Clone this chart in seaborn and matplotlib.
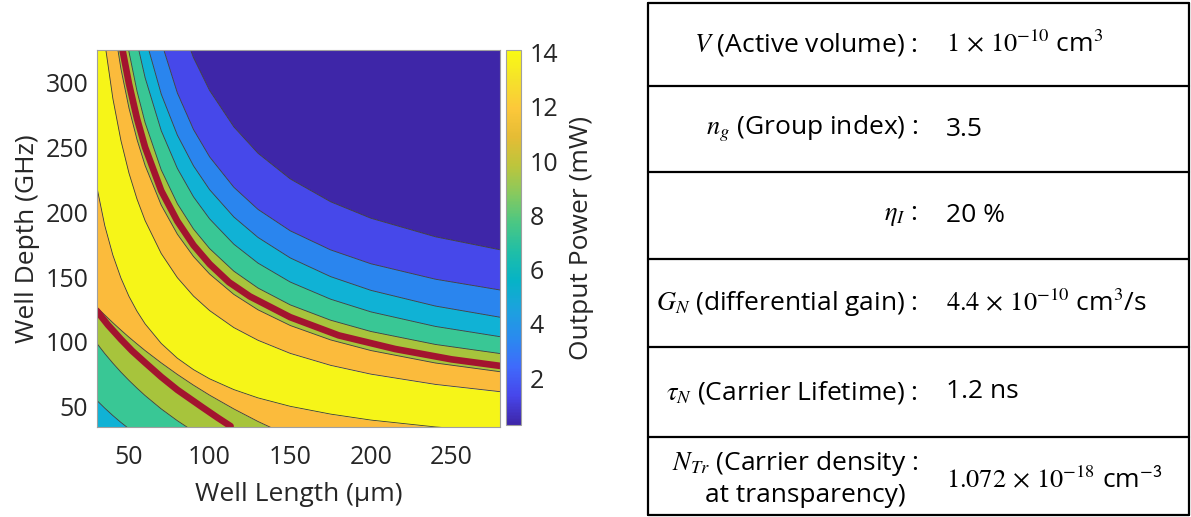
import matplotlib
matplotlib.use("Agg")
import matplotlib.pyplot as plt
from matplotlib.colors import LinearSegmentedColormap, Normalize
from matplotlib.cm import ScalarMappable
import seaborn as sns

sns.set_theme(style="white")
plt.rcParams["font.family"] = ["Open Sans", "DejaVu Sans"]
plt.rcParams["mathtext.fontset"] = "stix"

# contour boundaries: well depth (GHz) of each
# iso-power line at these well lengths (um)
well_length = [30, 35, 40, 45, 50, 55, 60, 70, 80, 90, 100, 115, 130, 150,
               175, 200, 240, 280]
# ridge side towards long / deep wells
upper_2 = [1534, 1062, 825, 684, 589, 522, 471, 400, 352.8, 319.1, 293.8,
           265.8, 245.4, 225.6, 208, 195.3, 181, 171]
upper_4 = [1280, 884, 687, 568, 489, 433, 390.7, 331.4, 291.9, 263.7, 242.6,
           219.2, 202.1, 185.6, 170.9, 160.2, 148.3, 140]
upper_6 = [733, 601, 512, 449, 401.6, 364.7, 335.2, 291, 259.4, 235.7, 217.3,
           196.3, 180.5, 164.7, 150.3, 139.7, 127.6, 119]
upper_8 = [671, 549, 467, 408.7, 365, 330.9, 303.7, 262.8, 233.7, 211.8,
           194.8, 175.3, 160.7, 146.1, 132.9, 123.1, 111.9, 104]
upper_9_5 = [597, 487, 414.6, 362.6, 323.6, 293.2, 269, 232.6, 206.5, 187,
             171.9, 154.5, 141.5, 128.5, 116.7, 108, 98, 91]
upper_11 = [474.6, 401.7, 349.6, 310.6, 280.2, 255.9, 236, 205.4, 183, 165.8,
            152.3, 136.6, 124.7, 112.6, 101.5, 93.3, 83.7, 77]
upper_12_5 = [391.4, 330.9, 287.7, 255.3, 230.1, 210, 193.5, 168.1, 149.5,
              135.3, 124.1, 111, 101.2, 91.1, 81.9, 75.1, 67.2, 61.6]
# ridge side towards short / shallow wells
lower_12_5 = [220, 189.7, 167, 149.3, 135.1, 123.6, 113.9, 98.8, 87.4, 78.6,
              71.5, 63.2, 56.8, 50.3, 44.3, 39.7, 34.4, 30.6]
lower_11 = [126.9, 120.7, 114.8, 109.1, 103.6, 98.4, 93.3, 83.8, 74.9, 66.6,
            58.9, 48.3, 38.6, 27, 14.2, 3, -12, -25]
lower_9_5 = [99, 91, 83.6, 76.7, 70.3, 64.3, 58.6, 48.3, 39.2, 31, 23.6, 13.9,
             5.4, -4.4, -14.5, -23, -34, -44]
lower_8 = [55, 48.9, 43.2, 37.9, 33, 28.4, 24.1, 16.3, 9.3, 2.9, -2.6, -10,
           -17, -23, -29, -35, -40, -45]

# red curves
red_upper_L = [46, 50, 55, 60, 70, 80, 90, 100, 112, 125, 150, 180, 215, 250, 280]
red_upper_D = [325, 299, 272, 250, 216.5, 193, 174.5, 160, 146, 135, 119, 105,
               94.5, 86.5, 81.5]
red_lower_L = [30, 37, 45, 52, 60, 70, 80, 95, 105, 113]
red_lower_D = [124, 113, 102, 93, 84, 73, 63, 50, 41.5, 35]

cbar_ticks = [2, 4, 6, 8, 10, 12, 14]
power_min, power_max = 0.27, 14.1

# table
param_labels = [
    r"$V$ (Active volume) :",
    r"$n_g$ (Group index) :",
    r"$\eta_I$ :",
    r"$G_N$ (differential gain) :",
    r"$\tau_N$ (Carrier Lifetime) :",
    r"$N_{Tr}$ (Carrier density :",
]
param_values = [
    r"$1\,\times\,10^{-10}$ cm$^3$",
    "3.5",
    "20 %",
    r"$4.4\,\times\,10^{-10}$ cm$^3$/s",
    "1.2 ns",
    r"$1.072\,\times\,10^{-18}$ cm$^{\mathsf{-3}}$",
]

dp, bp, blue, cyan = "#3E26A8", "#4648EA", "#2A85EE", "#10B2D5"
teal, olive, orange, yellow = "#39C795", "#A7C43C", "#FBBB3C", "#F6F518"
parula = LinearSegmentedColormap.from_list("parula", [
    "#3E26A8", "#4746EB", "#3F6AFB", "#2A8AEF", "#1CA2DE", "#06B3C6",
    "#1FBEA7", "#4AC784", "#86C95F", "#BDC53C", "#E5BC35", "#FCC83A",
    "#F5E22A", "#F9FA14"])

text_color = "#262626"

fig = plt.figure(figsize=(11.91, 5.17), dpi=100)
W, H = 1191, 517
ax = fig.add_axes([96.7 / W, 1 - 426.7 / H, 403.3 / W, 376.7 / H])

floor = [-200] * len(well_length)
ceil = [2000] * len(well_length)
bands = [
    (floor, lower_8, cyan), (lower_8, lower_9_5, teal),
    (lower_9_5, lower_11, olive), (lower_11, lower_12_5, orange),
    (lower_12_5, upper_12_5, yellow), (upper_12_5, upper_11, orange),
    (upper_11, upper_9_5, olive), (upper_9_5, upper_8, teal),
    (upper_8, upper_6, cyan), (upper_6, upper_4, blue),
    (upper_4, upper_2, bp), (upper_2, ceil, dp),
]
for lo, hi, c in bands:
    ax.fill_between(well_length, lo, hi, color=c, lw=0)
for line in [lower_8, lower_9_5, lower_11, lower_12_5, upper_12_5, upper_11,
             upper_9_5, upper_8, upper_6, upper_4, upper_2]:
    ax.plot(well_length, line, color="#3a3a3a", lw=0.6)
for xs, ys in [(red_upper_L, red_upper_D), (red_lower_L, red_lower_D)]:
    sns.lineplot(x=xs, y=ys, sort=False, estimator=None, color="#A3142F",
                 linewidth=4.8, ax=ax, legend=False)

ax.set_xlim(30, 280)
ax.set_ylim(34.6, 325)
ax.set_xticks([50, 100, 150, 200, 250])
ax.set_yticks([50, 100, 150, 200, 250, 300])
ax.tick_params(direction="in", length=4, width=0.6, colors="#8a8a8a",
               labelcolor=text_color, labelsize=18, top=True, right=True)
ax.tick_params(axis="x", pad=13)
ax.tick_params(axis="y", pad=6)
for s in ax.spines.values():
    s.set_color("#a0a0a0")
    s.set_linewidth(0.8)
    s.set_zorder(5)
ax.set_xlabel("Well Length (µm)", fontsize=19, color=text_color, labelpad=9)
ax.set_ylabel("Well Depth (GHz)", fontsize=19, color=text_color, labelpad=4)

cax = fig.add_axes([506 / W, 1 - 425 / H, 15 / W, 375 / H])
sm = ScalarMappable(norm=Normalize(power_min, power_max), cmap=parula)
cb = fig.colorbar(sm, cax=cax, ticks=cbar_ticks)
cb.outline.set_edgecolor("#a0a0a0")
cb.outline.set_linewidth(0.8)
cax.tick_params(direction="in", length=4, width=0.6, colors="#8a8a8a",
                labelcolor=text_color, labelsize=18, pad=6)
cb.set_label("Output Power (mW)", fontsize=19, color=text_color, labelpad=8)

# parameter table
tab = fig.add_axes([0, 0, 1, 1])
tab.set_xlim(0, W)
tab.set_ylim(H, 0)
tab.axis("off")
left, right = 648, 1189
edges = [3, 86, 172, 259, 347, 437, 515]
n = len(param_labels)
for y in edges:
    tab.plot([left, right], [y, y], color="black", lw=1.6)
tab.plot([left, left], [edges[0], edges[-1]], color="black", lw=1.6)
tab.plot([right, right], [edges[0], edges[-1]], color="black", lw=1.6)
fs = 19
for i, (lab, val) in enumerate(zip(param_labels, param_values)):
    yc = (edges[i] + edges[i + 1]) / 2
    if i == n - 1:
        tab.text(918, yc - 13, lab, ha="right", va="center", fontsize=fs,
                 color="black")
        tab.text(906, yc + 19, "at transparency)", ha="right", va="center",
                 fontsize=fs, color="black")
        tab.text(946, yc + 4, val, ha="left", va="center", fontsize=fs,
                 color="black")
    else:
        tab.text(918, yc, lab, ha="right", va="center", fontsize=fs,
                 color="black")
        tab.text(946, yc, val, ha="left", va="center", fontsize=fs,
                 color="black")

fig.savefig("out.png", dpi=100)
